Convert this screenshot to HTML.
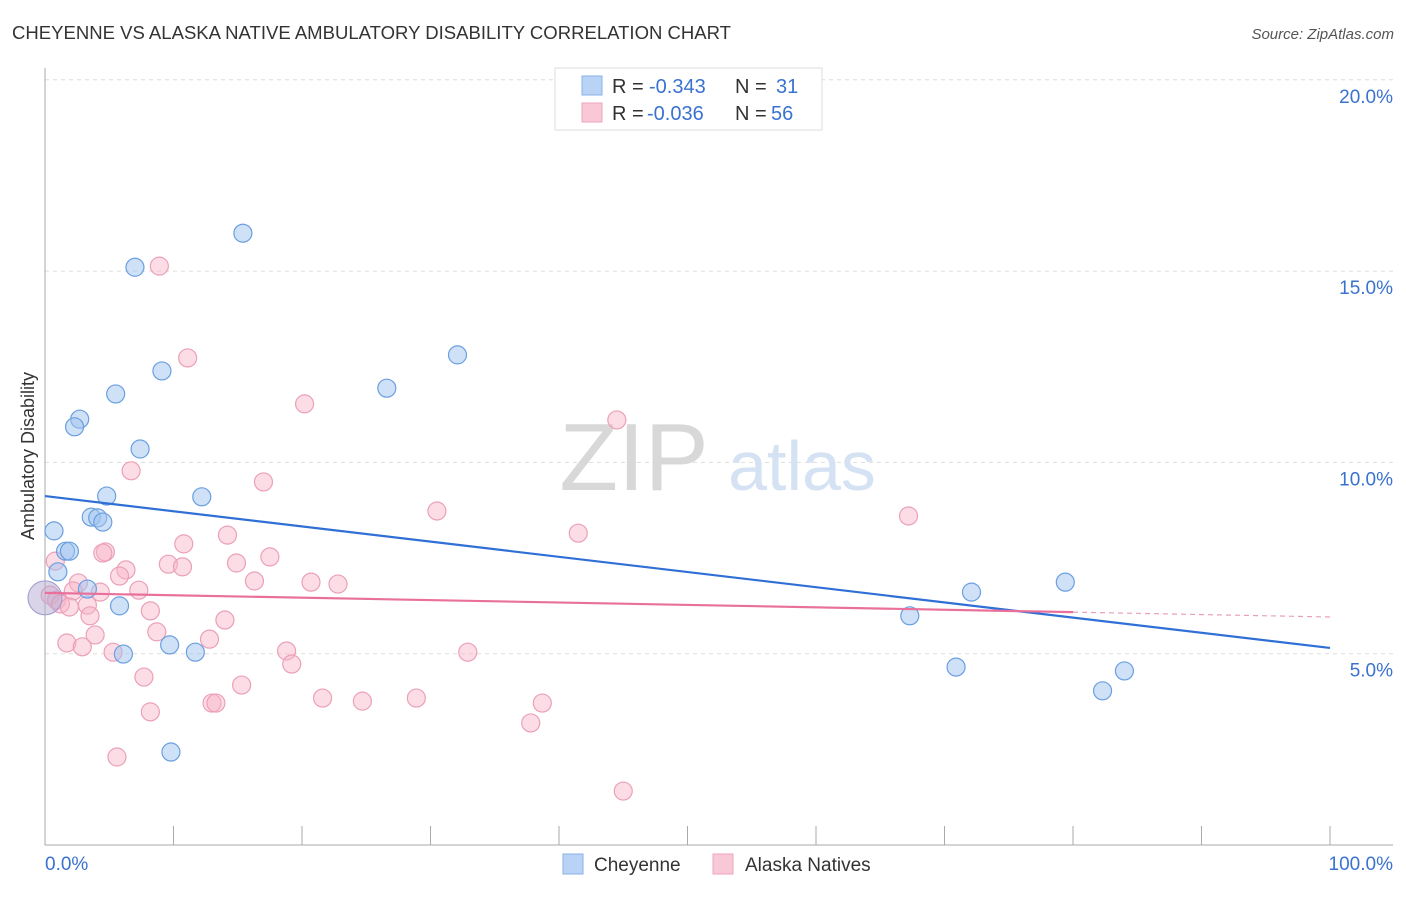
<!DOCTYPE html>
<html><head><meta charset="utf-8"><style>
body{margin:0;background:#fff;font-family:"Liberation Sans",sans-serif}
svg text{font-family:"Liberation Sans",sans-serif}
</style></head><body>
<svg id="chart" width="1406" height="892">
<text x="12" y="39" font-size="18" fill="#333" textLength="719" lengthAdjust="spacingAndGlyphs">CHEYENNE VS ALASKA NATIVE AMBULATORY DISABILITY CORRELATION CHART</text>
<text x="1394" y="39" font-size="15" fill="#555" text-anchor="end" font-style="italic">Source: ZipAtlas.com</text>
<text x="34" y="456" font-size="18" fill="#333" text-anchor="middle" transform="rotate(-90 34 456)">Ambulatory Disability</text>
<g id="grid"></g>
<g><text x="634" y="490" font-size="96" fill="#d8d8d8" font-family="Liberation Serif" text-anchor="middle">ZIP</text><text x="802" y="490" font-size="70" fill="#d4e2f4" text-anchor="middle">atlas</text></g>
<g id="pts"></g>
<g id="lines"></g>
<g>
<rect x="555" y="68" width="267" height="62" fill="#fff" stroke="#ddd"/>
<rect x="582" y="76" width="20" height="19" fill="#b8d3f5" stroke="#8ab2e8"/>
<rect x="582" y="103" width="20" height="19" fill="#f9c8d6" stroke="#efa5bd"/>
<text y="93" font-size="20" fill="#333"><tspan x="612">R =</tspan><tspan x="649" fill="#3a72d0">-0.343</tspan><tspan x="735">N =</tspan><tspan x="776" fill="#3a72d0">31</tspan></text>
<text y="120" font-size="20" fill="#333"><tspan x="612">R =</tspan><tspan x="647" fill="#3a72d0">-0.036</tspan><tspan x="735">N =</tspan><tspan x="771" fill="#3a72d0">56</tspan></text>
</g>
<g>
<rect x="563" y="854" width="20" height="20" fill="#b8d3f5" stroke="#8ab2e8"/>
<text x="594" y="871" font-size="19" fill="#333">Cheyenne</text>
<rect x="713" y="854" width="20" height="20" fill="#f9c8d6" stroke="#efa5bd"/>
<text x="745" y="871" font-size="19" fill="#333">Alaska Natives</text>
</g>
</svg>
<script>
const yTicks=[5,10,15,20];
const yTickLabels=["5.0%","10.0%","15.0%","20.0%"];
const xTickLabels=["0.0%","100.0%"];
const blueX=[15.4,7.0,9.1,32.1,5.5,26.6,2.7,2.3,7.4,4.8,12.2,3.6,4.1,4.5,0.7,1.6,1.9,1.0,3.3,5.8,6.1,9.7,11.7,9.8,67.3,72.1,79.4,70.9,82.3,84.0];
const blueY=[15.99,15.1,12.39,12.81,11.79,11.94,11.13,10.93,10.35,9.12,9.10,8.57,8.55,8.44,8.21,7.68,7.68,7.14,6.69,6.25,4.99,5.23,5.04,2.43,5.99,6.61,6.87,4.65,4.03,4.55];
const pinkX=[8.9,11.1,20.2,44.5,6.7,17.0,30.5,67.2,41.5,14.2,10.8,4.7,4.5,17.5,0.8,14.9,9.6,10.7,6.3,5.8,16.3,20.7,22.8,7.3,2.6,2.2,4.3,0.4,0.9,1.2,3.3,1.9,8.2,3.5,14.0,8.7,3.9,12.8,1.7,2.9,5.3,18.8,32.9,19.2,7.7,15.3,21.6,24.7,28.9,13.0,13.3,38.7,8.2,37.8,5.6,45.0];
const pinkY=[15.13,12.73,11.53,11.11,9.78,9.49,8.73,8.60,8.15,8.10,7.87,7.66,7.63,7.53,7.42,7.37,7.34,7.27,7.19,7.03,6.90,6.87,6.82,6.66,6.85,6.64,6.61,6.53,6.40,6.30,6.27,6.22,6.12,5.99,5.88,5.57,5.49,5.38,5.28,5.18,5.04,5.07,5.04,4.73,4.39,4.18,3.84,3.76,3.84,3.71,3.71,3.71,3.48,3.19,2.30,1.41];
const blueTrend=[9.12,5.15];
const pinkTrend=[6.59,5.96];
const pinkSolidEnd=80;
const bigPoint=[0,6.46];
const X=v=>45+v*12.85, Y=v=>845-v*38.26;
const NS="http://www.w3.org/2000/svg";
function mk(parent,tag,attrs){const e=document.createElementNS(NS,tag);for(const k in attrs)e.setAttribute(k,attrs[k]);parent.appendChild(e);return e;}
const grid=document.getElementById('grid');
yTicks.forEach((t,i)=>{
 const l=mk(grid,'line',{x1:45,x2:1393,y1:Y(t),y2:Y(t),stroke:'#ddd','stroke-dasharray':'4,4'});
 
 
 const tx=mk(grid,'text',{x:1393,y:Y(t)+23,'font-size':19,fill:'#3a72d0','text-anchor':'end'});
 tx.textContent=yTickLabels[i];
 
 
});
mk(grid,'line',{x1:45,x2:45,y1:68,y2:845,stroke:'#aaa'});
mk(grid,'line',{x1:45,x2:1393,y1:845,y2:845,stroke:'#aaa'});
for(let i=0;i<=10;i++){const t=mk(grid,'line',{x1:X(i*10),x2:X(i*10),y1:826,y2:845,stroke:'#aaa'});
 
 }
[[X(0),'start'],[X(100)+63,'end']].forEach((p,i)=>{const t=mk(grid,'text',{x:p[0],y:870,'font-size':19,fill:'#3a72d0','text-anchor':p[1]});t.textContent=xTickLabels[i];
 
 });
const pts=document.getElementById('pts');
pinkX.forEach((x,i)=>{const c=mk(pts,'circle',{cx:X(x),cy:Y(pinkY[i]),r:9,fill:'rgba(248,180,200,0.45)',stroke:'#eba0b8','stroke-width':1.2});
 
 });
blueX.forEach((x,i)=>{const c=mk(pts,'circle',{cx:X(x),cy:Y(blueY[i]),r:9,fill:'rgba(160,196,240,0.5)',stroke:'#6a9fe0','stroke-width':1.2});
 
 });
const big=mk(pts,'circle',{cx:X(bigPoint[0]),cy:Y(bigPoint[1]),r:17,fill:'rgba(180,170,210,0.5)',stroke:'#9a9ad0'});


const lines=document.getElementById('lines');
const bl=mk(lines,'line',{x1:X(0),y1:Y(blueTrend[0]),x2:X(100),y2:Y(blueTrend[1]),stroke:'#2f6fd6','stroke-width':2.2});


const pAt=v=>pinkTrend[0]+(pinkTrend[1]-pinkTrend[0])*v/100;
const pl=mk(lines,'line',{x1:X(0),y1:Y(pAt(0)),x2:X(pinkSolidEnd),y2:Y(pAt(pinkSolidEnd)),stroke:'#e8709a','stroke-width':2.2});


const pd=mk(lines,'line',{x1:X(pinkSolidEnd),y1:Y(pAt(pinkSolidEnd)),x2:X(100),y2:Y(pAt(100)),stroke:'#e8a0b8','stroke-width':1.2,'stroke-dasharray':'5,4'});


</script>
</body></html>
